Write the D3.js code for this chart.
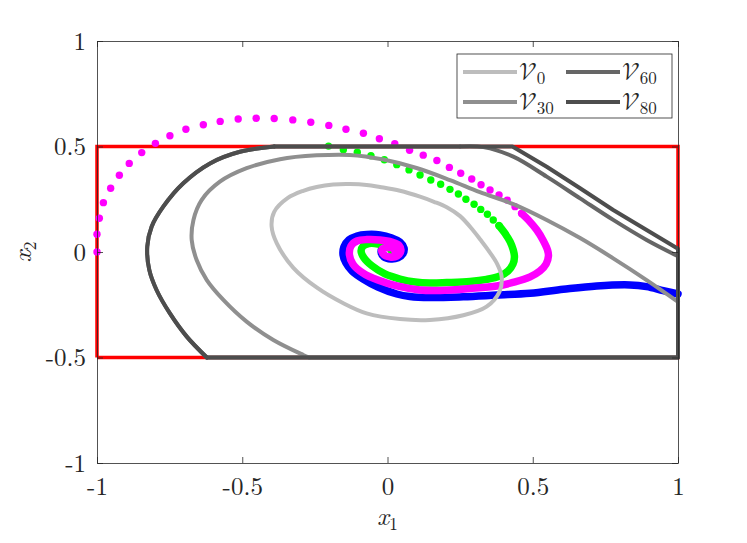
<!DOCTYPE html>
<html>
<head>
<meta charset="utf-8">
<script src="https://cdn.jsdelivr.net/npm/d3@7"></script>
<style>
  body { margin: 0; background: #fff; }
  svg text { font-family: "Latin Modern Roman", "CMU Serif", "Liberation Serif", serif; fill: #262626; }
</style>
</head>
<body>
<div id="chart"></div>
<script>
// tick values
const xTicks = [-1, -0.5, 0, 0.5, 1];
const yTicks = [-1, -0.5, 0, 0.5, 1];
const legendSubs = ["0", "30", "60", "80"];

// constraint set (red box)
const constraintBox = [[-1, -0.5], [1, -0.5], [1, 0.5], [-1, 0.5], [-1, -0.5]];

// level set V0 (closed ellipse)
const v0Curve = [
  [-0.399, 0.123], [-0.390, 0.190], [-0.343, 0.256], [-0.290, 0.290], [-0.244, 0.308],
  [-0.187, 0.320], [-0.129, 0.322], [-0.072, 0.318], [-0.026, 0.308], [0.043, 0.290],
  [0.112, 0.262], [0.160, 0.238], [0.204, 0.212], [0.250, 0.170], [0.295, 0.102],
  [0.320, 0.058], [0.346, 0.010], [0.377, -0.055], [0.393, -0.118], [0.385, -0.190],
  [0.341, -0.259], [0.261, -0.300], [0.146, -0.322], [0.043, -0.318], [-0.072, -0.291],
  [-0.152, -0.243], [-0.244, -0.168], [-0.324, -0.075], [-0.381, 0.041]
];

// level set V30: smooth part + part on the constraint boundary
const v30Curve = [
  [1, -0.236], [0.892, -0.133], [0.777, -0.030], [0.663, 0.066], [0.548, 0.152],
  [0.433, 0.227], [0.318, 0.284], [0.215, 0.341], [0.100, 0.398], [-0.014, 0.438],
  [-0.129, 0.460], [-0.244, 0.458], [-0.370, 0.440], [-0.485, 0.397], [-0.577, 0.333],
  [-0.640, 0.246], [-0.668, 0.152], [-0.674, 0.057], [-0.657, -0.038], [-0.622, -0.133],
  [-0.565, -0.227], [-0.485, -0.330], [-0.393, -0.417], [-0.290, -0.488], [-0.270, -0.5]
];
const v30Edge = [[-0.270, -0.5], [1, -0.5], [1, -0.236]];

// level set V60
const v60Curve = [
  [-0.622, -0.5], [-0.691, -0.401], [-0.749, -0.291], [-0.795, -0.180], [-0.820, -0.085],
  [-0.827, 0.025], [-0.812, 0.120], [-0.772, 0.215], [-0.703, 0.326], [-0.611, 0.420],
  [-0.508, 0.475], [-0.390, 0.5]
];
const v60Edge = [[-0.390, 0.5], [0.250, 0.5]];
const v60Corner = [
  [0.250, 0.5], [0.330, 0.497], [0.433, 0.452], [0.548, 0.357], [0.663, 0.254],
  [0.777, 0.152], [0.892, 0.057], [1, -0.020]
];
const v60Side = [[1, -0.020], [1, -0.5], [-0.622, -0.5]];

// level set V80
const v80Curve = [
  [-0.622, -0.5], [-0.691, -0.401], [-0.749, -0.291], [-0.795, -0.180], [-0.820, -0.085],
  [-0.827, 0.025], [-0.812, 0.120], [-0.772, 0.215], [-0.703, 0.326], [-0.611, 0.420],
  [-0.508, 0.475], [-0.390, 0.5]
];
const v80Edge = [
  [-0.390, 0.5], [0.430, 0.5], [0.548, 0.404], [0.663, 0.302], [0.777, 0.199],
  [0.892, 0.104], [1, 0.015], [1, -0.5], [-0.622, -0.5]
];

// trajectory 1 (magenta): sparse samples, then dense tail
const magentaDots = [
  [-1.0, 0.0], [-1.0, 0.084], [-0.992, 0.160], [-0.978, 0.234], [-0.953, 0.302],
  [-0.923, 0.364], [-0.889, 0.420], [-0.846, 0.471], [-0.799, 0.515], [-0.749, 0.551],
  [-0.694, 0.582], [-0.634, 0.603], [-0.576, 0.619], [-0.514, 0.630], [-0.452, 0.634],
  [-0.390, 0.633], [-0.326, 0.626], [-0.264, 0.615], [-0.202, 0.600], [-0.143, 0.582],
  [-0.083, 0.563], [-0.028, 0.537], [0.025, 0.513], [0.076, 0.482], [0.123, 0.459],
  [0.170, 0.434], [0.213, 0.401], [0.252, 0.373], [0.290, 0.346], [0.322, 0.319],
  [0.353, 0.294], [0.384, 0.270], [0.412, 0.246], [0.439, 0.215], [0.462, 0.183]
];
const magentaTail = [
  [0.462, 0.183], [0.485, 0.152], [0.514, 0.104], [0.535, 0.057], [0.551, 0.009],
  [0.554, -0.019], [0.546, -0.057], [0.525, -0.090], [0.491, -0.118], [0.439, -0.142],
  [0.376, -0.161], [0.284, -0.173], [0.181, -0.182], [0.112, -0.180], [0.032, -0.161],
  [-0.033, -0.133], [-0.084, -0.100], [-0.119, -0.057], [-0.131, -0.014], [-0.126, 0.028],
  [-0.105, 0.052], [-0.071, 0.059], [-0.026, 0.057], [0.015, 0.047], [0.040, 0.031],
  [0.046, 0.005], [0.033, -0.019], [0.009, -0.024], [-0.015, -0.009], [-0.019, 0.012],
  [-0.002, 0.021], [0.019, 0.017], [0.026, 0.002]
];

// trajectory 2 (green)
const greenDots = [
  [-0.203, 0.502], [-0.152, 0.485], [-0.104, 0.473], [-0.057, 0.456], [-0.011, 0.437],
  [0.032, 0.414], [0.074, 0.389], [0.112, 0.365], [0.149, 0.341], [0.183, 0.321],
  [0.215, 0.297], [0.244, 0.275], [0.270, 0.250], [0.298, 0.226], [0.321, 0.202],
  [0.344, 0.179], [0.364, 0.152], [0.384, 0.125]
];
const greenTail = [
  [0.384, 0.125], [0.404, 0.089], [0.422, 0.049], [0.433, 0.009], [0.437, -0.024],
  [0.432, -0.057], [0.415, -0.090], [0.387, -0.114], [0.341, -0.130], [0.284, -0.140],
  [0.204, -0.145], [0.146, -0.147], [0.095, -0.142], [0.043, -0.128], [-0.009, -0.104],
  [-0.053, -0.066], [-0.081, -0.028], [-0.091, 0.005], [-0.084, 0.028], [-0.064, 0.040],
  [-0.033, 0.038], [-0.005, 0.026], [0.012, 0.012], [0.015, 0.0]
];

// trajectory 3 (blue), dense all the way
const blueTail = [
  [1.0, -0.199], [0.949, -0.183], [0.892, -0.164], [0.835, -0.156], [0.720, -0.161],
  [0.605, -0.177], [0.491, -0.196], [0.376, -0.204], [0.261, -0.212], [0.146, -0.216],
  [0.077, -0.211], [0.032, -0.199], [-0.033, -0.166], [-0.084, -0.128], [-0.122, -0.090],
  [-0.143, -0.052], [-0.153, -0.014], [-0.150, 0.024], [-0.133, 0.057], [-0.105, 0.076],
  [-0.071, 0.083], [-0.026, 0.081], [0.015, 0.066], [0.043, 0.047], [0.057, 0.019],
  [0.053, -0.009], [0.036, -0.028], [0.012, -0.033], [-0.012, -0.024], [-0.022, 0.0],
  [-0.015, 0.024], [0.002, 0.031], [0.019, 0.021], [0.022, 0.005]
];

const levelColors = ["#bdbdbd", "#8f8f8f", "#666666", "#4d4d4d"];
const axisColor = "#262626";
const serif = '"Latin Modern Roman", "CMU Serif", "Liberation Serif", serif';
const mathFont = '"Latin Modern Math", "Latin Modern Roman", "STIX Two Math", serif';

const width = 747, height = 543;
const margin = { top: 41, right: 69, bottom: 80, left: 97 };

const svg = d3.select("#chart").append("svg")
  .attr("width", width)
  .attr("height", height)
  .style("font-family", serif);

const x = d3.scaleLinear().domain([-1, 1]).range([margin.left, width - margin.right]);
const y = d3.scaleLinear().domain([-1, 1]).range([height - margin.bottom, margin.top]);

const lineLin = d3.line().x(d => x(d[0])).y(d => y(d[1]));
const lineSmooth = d3.line().x(d => x(d[0])).y(d => y(d[1])).curve(d3.curveCatmullRom.alpha(0.5));
const lineClosed = d3.line().x(d => x(d[0])).y(d => y(d[1])).curve(d3.curveCatmullRomClosed.alpha(0.5));

// clip to axes box
svg.append("clipPath").attr("id", "plotClip")
  .append("rect")
  .attr("x", x(-1) - 6).attr("y", y(1))
  .attr("width", x(1) - x(-1) + 12).attr("height", y(-1) - y(1));

const plot = svg.append("g").attr("clip-path", "url(#plotClip)");

// constraint box
plot.append("path")
  .attr("d", lineLin(constraintBox))
  .attr("fill", "none")
  .attr("stroke", "#ff0000")
  .attr("stroke-width", 3.5);

// trajectories
function drawTraj(dots, tail, color) {
  plot.append("path")
    .attr("d", lineSmooth(tail))
    .attr("fill", "none")
    .attr("stroke", color)
    .attr("stroke-width", 7.5)
    .attr("stroke-linejoin", "round")
    .attr("stroke-linecap", "round");
  plot.selectAll(null)
    .data(dots)
    .enter().append("circle")
    .attr("cx", d => x(d[0]))
    .attr("cy", d => y(d[1]))
    .attr("r", 3.7)
    .attr("fill", color);
}

drawTraj([], blueTail, "#0000ff");
drawTraj(greenDots, greenTail, "#00ff00");
drawTraj(magentaDots, magentaTail, "#ff00ff");

// level sets on top
function drawPiece(data, gen, color) {
  plot.append("path")
    .attr("d", gen(data))
    .attr("fill", "none")
    .attr("stroke", color)
    .attr("stroke-width", 4)
    .attr("stroke-linejoin", "round")
    .attr("stroke-linecap", "round");
}

drawPiece(v0Curve, lineClosed, levelColors[0]);
drawPiece(v30Curve, lineSmooth, levelColors[1]);
drawPiece(v30Edge, lineLin, levelColors[1]);
drawPiece(v60Curve, lineSmooth, levelColors[2]);
drawPiece(v60Edge, lineLin, levelColors[2]);
drawPiece(v60Corner, lineSmooth, levelColors[2]);
drawPiece(v60Side, lineLin, levelColors[2]);
drawPiece(v80Curve, lineSmooth, levelColors[3]);
drawPiece(v80Edge, lineLin, levelColors[3]);

// axes (box with inward ticks)
const fmt = d => String(d);
function styleAxis(g) {
  g.attr("font-family", null).attr("font-size", null);
  g.selectAll("path, line").attr("stroke", axisColor).attr("stroke-width", 0.8);
  g.selectAll("text").attr("fill", axisColor).style("font-family", serif).style("font-size", "25px");
}

svg.append("g")
  .attr("transform", `translate(0,${y(-1)})`)
  .call(d3.axisBottom(x).tickValues(xTicks).tickSizeInner(-6).tickSizeOuter(0).tickFormat(fmt))
  .call(styleAxis)
  .call(g => g.selectAll("text").attr("y", 32).attr("dy", null));

svg.append("g")
  .attr("transform", `translate(0,${y(1)})`)
  .call(d3.axisTop(x).tickValues(xTicks).tickSizeInner(-6).tickSizeOuter(0).tickFormat(""))
  .call(styleAxis);

svg.append("g")
  .attr("transform", `translate(${x(-1)},0)`)
  .call(d3.axisLeft(y).tickValues(yTicks).tickSizeInner(-6).tickSizeOuter(0).tickFormat(fmt))
  .call(styleAxis)
  .call(g => g.selectAll("text").attr("x", -11).attr("dy", "0.33em"));

svg.append("g")
  .attr("transform", `translate(${x(1)},0)`)
  .call(d3.axisRight(y).tickValues(yTicks).tickSizeInner(-6).tickSizeOuter(0).tickFormat(""))
  .call(styleAxis);

// axis labels
const xl = svg.append("text")
  .attr("x", x(0))
  .attr("y", 525)
  .attr("text-anchor", "middle")
  .style("font-family", serif);
xl.append("tspan").attr("font-style", "italic").style("font-size", "26px").text("x");
xl.append("tspan").attr("dy", 5).style("font-size", "18px").text("1");

const yl = svg.append("text")
  .attr("transform", `translate(31,${y(0)}) rotate(-90)`)
  .attr("text-anchor", "middle")
  .style("font-family", serif);
yl.append("tspan").attr("font-style", "italic").style("font-size", "26px").text("x");
yl.append("tspan").attr("dy", 5).style("font-size", "18px").text("2");

// legend
const legend = svg.append("g");
legend.append("rect")
  .attr("x", 457).attr("y", 54)
  .attr("width", 215).attr("height", 64)
  .attr("fill", "#fff")
  .attr("stroke", axisColor)
  .attr("stroke-width", 0.8);

legendSubs.forEach((s, i) => {
  const col = i < 2 ? 0 : 1;
  const row = i % 2;
  const lx = 463 + col * 103;
  const ly = 72 + row * 30;
  legend.append("line")
    .attr("x1", lx).attr("x2", lx + 54)
    .attr("y1", ly).attr("y2", ly)
    .attr("stroke", levelColors[i])
    .attr("stroke-width", 4);
  const t = legend.append("text")
    .attr("x", lx + 56)
    .attr("y", ly + 8);
  t.append("tspan").style("font-family", mathFont).style("font-size", "25px").text("\u{1D4B1}");
  t.append("tspan").attr("dy", 4).style("font-family", serif).style("font-size", "17px").text(s);
});
</script>
</body>
</html>
